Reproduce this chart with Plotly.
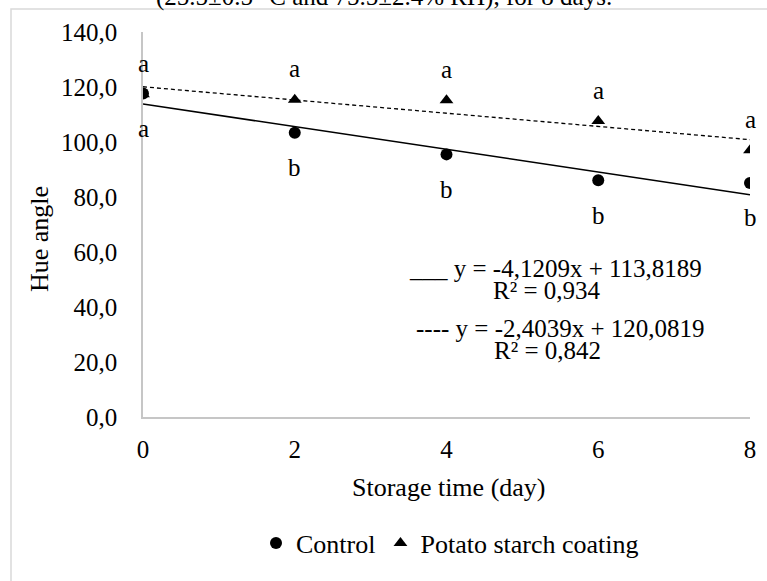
import plotly.graph_objects as go

# ---- data ----
days = [0, 2, 4, 6, 8]
control = [117.6, 103.4, 95.5, 86.1, 85.1]
potato = [117.4, 115.4, 115.2, 107.6, 97.0]
control_letters = ["a", "b", "b", "b", "b"]
potato_letters = ["a", "a", "a", "a", "a"]
trend_slope = [-4.1209, -2.4039]
trend_intercept = [113.8189, 120.0819]
r2 = [0.934, 0.842]
y_ticks = [0, 20, 40, 60, 80, 100, 120, 140]
x_ticks = [0, 2, 4, 6, 8]

FONT = "Liberation Serif"
FS = 25
W, H = 767, 581
L, R, T, B = 143, 17, 32, 164
PW, PH = W - L - R, H - T - B


def px(x):
    return (x - L) / PW


def py(y):
    return (H - B - y) / PH


def fmt(v, nd):
    return f"{v:.{nd}f}".replace(".", ",")


fig = go.Figure()

fig.add_trace(go.Scatter(
    x=days, y=control, mode="markers", name="Control",
    marker=dict(symbol="circle", size=12, color="black"),
))
fig.add_trace(go.Scatter(
    x=days, y=potato, mode="markers", name="Potato starch coating",
    marker=dict(symbol="triangle-up", size=12, color="black"),
))

# trend lines from the regression coefficients
x0, x1 = days[0], days[-1]
fig.add_trace(go.Scatter(
    x=[x0, x1], y=[trend_intercept[0] + trend_slope[0] * x0, trend_intercept[0] + trend_slope[0] * x1],
    mode="lines", line=dict(color="black", width=1.5), showlegend=False, hoverinfo="skip",
))
fig.add_trace(go.Scatter(
    x=[x0, x1], y=[trend_intercept[1] + trend_slope[1] * x0, trend_intercept[1] + trend_slope[1] * x1],
    mode="lines", line=dict(color="black", width=1.3, dash="4px,3px"), showlegend=False, hoverinfo="skip",
))

ann = []
# letters
for d, v, t in zip(days, potato, potato_letters):
    ann.append(dict(x=d, y=v, text=t, showarrow=False, yshift=31,
                    font=dict(family=FONT, size=FS, color="black")))
for d, v, t in zip(days, control, control_letters):
    ann.append(dict(x=d, y=v, text=t, showarrow=False, yshift=-35,
                    font=dict(family=FONT, size=FS, color="black")))

# equations
eq1 = f"___ y = {fmt(trend_slope[0], 4)}x + {fmt(trend_intercept[0], 4)}"
eq2 = f"---- y = {fmt(trend_slope[1], 4)}x + {fmt(trend_intercept[1], 4)}"
for text, xp, yp in [
    (eq1, 555, 268),
    (f"R² = {fmt(r2[0], 3)}", 547, 290),
    (eq2, 560, 328),
    (f"R² = {fmt(r2[1], 3)}", 547, 350),
]:
    ann.append(dict(xref="paper", yref="paper", x=px(xp), y=py(yp), text=text,
                    showarrow=False, xanchor="center", yanchor="middle",
                    font=dict(family=FONT, size=FS, color="black")))

# axis titles
ann.append(dict(xref="paper", yref="paper", x=px(39), y=py(239), text="Hue angle",
                textangle=-90, showarrow=False, xanchor="center", yanchor="middle",
                font=dict(family=FONT, size=26, color="black")))
ann.append(dict(xref="paper", yref="paper", x=px(449), y=py(487), text="Storage time (day)",
                showarrow=False, xanchor="center", yanchor="middle",
                font=dict(family=FONT, size=26, color="black")))
# clipped caption at very top
ann.append(dict(xref="paper", yref="paper", x=px(384), y=py(-3),
                text="(25.5±0.5 °C and 75.5±2.4% RH), for 8 days.",
                showarrow=False, xanchor="center", yanchor="middle",
                font=dict(family=FONT, size=FS, color="black")))

fig.update_layout(
    width=W, height=H, autosize=False,
    margin=dict(l=L, r=R, t=T, b=B, pad=0),
    paper_bgcolor="white", plot_bgcolor="white",
    separators=",.",
    font=dict(family=FONT, size=FS, color="black"),
    annotations=ann,
    showlegend=True,
    legend=dict(orientation="h", xanchor="center", yanchor="middle",
                x=px(450), y=py(543), font=dict(family=FONT, size=26, color="black"),
                itemwidth=30, bgcolor="rgba(0,0,0,0)", traceorder="normal"),
    shapes=[dict(type="rect", xref="paper", yref="paper",
                 x0=px(11), x1=px(900), y0=py(700), y1=py(9),
                 line=dict(color="#d9d9d9", width=1.5), layer="below")],
)

fig.update_xaxes(range=[0, 8], tickvals=x_ticks, showgrid=False, zeroline=False,
                 showline=True, linecolor="#c6c6c6", linewidth=1.5, ticks="",
                 ticklabelstandoff=9, tickfont=dict(family=FONT, size=FS))
fig.update_yaxes(range=[0, 140], tickvals=y_ticks, tickformat=".1f", showgrid=False,
                 zeroline=False, showline=True, linecolor="#c6c6c6", linewidth=1.5,
                 ticks="", ticklabelstandoff=19, tickfont=dict(family=FONT, size=FS))

fig.write_html("out.html", config={"displayModeBar": False},
               post_script="document.body.style.margin='0px';")
